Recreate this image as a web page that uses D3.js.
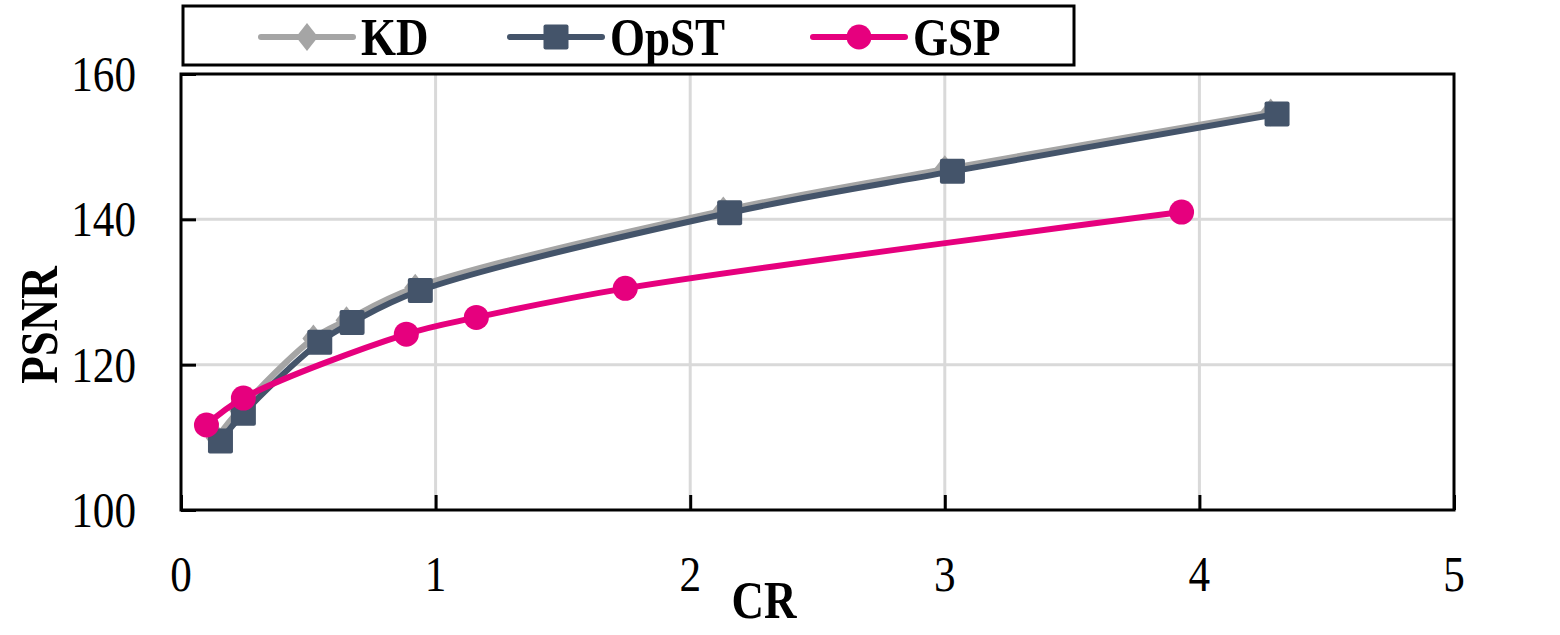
<!DOCTYPE html>
<html><head><meta charset="utf-8">
<script src="https://cdn.jsdelivr.net/npm/d3@7"></script>
<style>body{margin:0;background:#fff}svg{display:block}text{font-family:"Liberation Serif","Times New Roman",serif;fill:#000}</style>
</head><body>
<script>
const seriesNames = ["KD", "OpST", "GSP"];
const kdCR   = [0.14, 0.23, 0.52, 0.65, 0.92, 2.13, 3.00, 4.28];
const kdPSNR = [109.9, 113.8, 123.6, 126.1, 130.6, 141.2, 146.9, 154.7];
const opCR   = [0.155, 0.245, 0.545, 0.672, 0.94, 2.155, 3.03, 4.305];
const opPSNR = [109.5, 113.3, 123.1, 125.8, 130.2, 140.9, 146.6, 154.5];
const gspCR   = [0.10, 0.245, 0.885, 1.16, 1.745, 3.93];
const gspPSNR = [111.7, 115.4, 124.2, 126.5, 130.5, 141.0];
const xTicks = [0, 1, 2, 3, 4, 5];
const yTicks = [100, 120, 140, 160];
const colors = {KD: "#a5a5a5", OpST: "#44546a", GSP: "#e6007e"};

const W = 1560, H = 635;
const svg = d3.select("body").append("svg").attr("width", W).attr("height", H);
const L = 181, R = 1454, T = 74, B = 510;
const x = d3.scaleLinear().domain([0, 5]).range([L, R]);
const y = d3.scaleLinear().domain([100, 160]).range([B, T]);

// gridlines
svg.append("g").selectAll("line.v").data(xTicks.slice(1, -1)).join("line")
  .attr("x1", d => x(d)).attr("x2", d => x(d)).attr("y1", T).attr("y2", B)
  .attr("stroke", "#d9d9d9").attr("stroke-width", 3);
svg.append("g").selectAll("line.h").data(yTicks.slice(1, -1)).join("line")
  .attr("x1", L).attr("x2", R).attr("y1", d => y(d)).attr("y2", d => y(d))
  .attr("stroke", "#d9d9d9").attr("stroke-width", 3);

// axes with inward ticks
const xAxis = svg.append("g").attr("transform", `translate(0,${B})`)
  .call(d3.axisBottom(x).tickValues(xTicks).tickSizeInner(-15).tickSizeOuter(0).tickFormat(""));
const yAxis = svg.append("g").attr("transform", `translate(${L},0)`)
  .call(d3.axisLeft(y).tickValues(yTicks).tickSizeInner(-15).tickSizeOuter(0).tickFormat(""));
[xAxis, yAxis].forEach(g => {
  g.selectAll(".domain").remove();
  g.selectAll(".tick line").attr("stroke", "#000").attr("stroke-width", 3);
});

// frame
svg.append("rect").attr("x", L).attr("y", T).attr("width", R - L).attr("height", B - T)
  .attr("fill", "none").attr("stroke", "#000").attr("stroke-width", 3);

function txt(s, cx, cy, opts) {
  const g = svg.append("g").attr("transform", `translate(${cx},${cy})${opts.rot ? " rotate(-90)" : ""} scale(${opts.sx || 0.9},1.04)`);
  g.append("text").text(s).attr("text-anchor", opts.anchor || "middle")
    .attr("dominant-baseline", "central")
    .attr("font-size", opts.size || 48).attr("font-weight", opts.bold ? "bold" : "normal");
}

xTicks.forEach(d => txt(String(d), x(d), 574, {}));
yTicks.forEach(d => txt(String(d), 136, y(d), {anchor: "end"}));
txt("CR", 764, 601, {bold: true, size: 50});
txt("PSNR", 40, 325, {bold: true, size: 50, rot: true});

const line = d3.line().x(d => x(d[0])).y(d => y(d[1])).curve(d3.curveCatmullRom.alpha(0.5));
const data = {
  KD: d3.zip(kdCR, kdPSNR),
  OpST: d3.zip(opCR, opPSNR),
  GSP: d3.zip(gspCR, gspPSNR)
};

function marker(g, name, cx, cy) {
  const c = colors[name];
  if (name === "KD") {
    g.append("path").attr("d", `M${cx},${cy - 14}L${cx + 11},${cy}L${cx},${cy + 14}L${cx - 11},${cy}Z`).attr("fill", c);
  } else if (name === "OpST") {
    g.append("rect").attr("x", cx - 12.5).attr("y", cy - 12.5).attr("width", 25).attr("height", 25).attr("rx", 2).attr("fill", c);
  } else {
    g.append("circle").attr("cx", cx).attr("cy", cy).attr("r", 12.5).attr("fill", c);
  }
}

seriesNames.forEach(name => {
  const g = svg.append("g");
  g.append("path").datum(data[name]).attr("d", line).attr("fill", "none")
    .attr("stroke", colors[name]).attr("stroke-width", 6).attr("stroke-linejoin", "round");
  data[name].forEach(d => marker(g, name, x(d[0]), y(d[1])));
});

// legend
svg.append("rect").attr("x", 183).attr("y", 6).attr("width", 891).attr("height", 59)
  .attr("fill", "#fff").attr("stroke", "#000").attr("stroke-width", 3);
const legX = [261, 510, 813];
seriesNames.forEach((name, i) => {
  const g = svg.append("g");
  const x0 = legX[i], ly = 37;
  g.append("line").attr("x1", x0).attr("x2", x0 + 92).attr("y1", ly).attr("y2", ly)
    .attr("stroke", colors[name]).attr("stroke-width", 6).attr("stroke-linecap", "round");
  marker(g, name, x0 + 46, ly);
  txt(name, x0 + 100, ly + 1, {bold: true, size: 50, anchor: "start"});
});
</script>
</body></html>
